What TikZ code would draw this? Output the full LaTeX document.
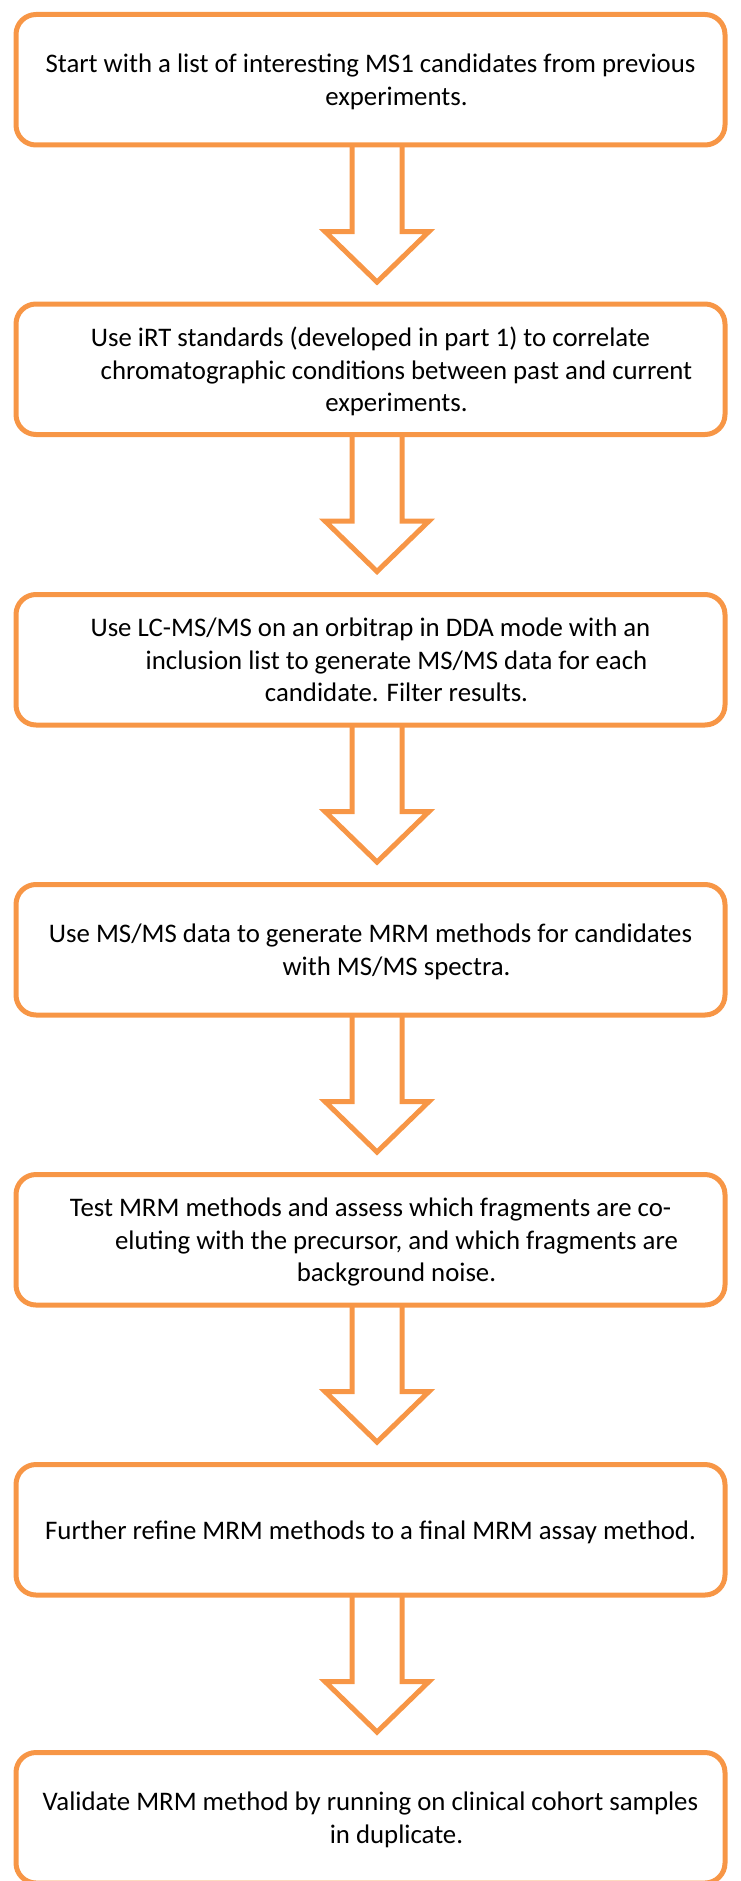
\documentclass[tikz,border=0pt]{standalone}
\usepackage{fontspec}
\setmainfont{Carlito}
\usepackage{tikz}
\definecolor{boxorange}{HTML}{F79646}

\begin{document}
\begin{tikzpicture}[x=1pt, y=-1pt,
    stepbox/.style={draw=boxorange, line width=5pt, rounded corners=20pt,
      minimum width=709pt, minimum height=130.5pt, inner sep=0pt, outer sep=0pt,
      align=center, text depth=0pt, font=\fontsize{26.8}{32.5}\selectfont},
    blockarrow/.style={draw=boxorange, line width=5pt, line join=miter}]
    \useasboundingbox (0,0) rectangle (740,1881);
    \node[stepbox] (s1) at (370.5, 79.75) {Start with a list of interesting MS1 candidates from previous\\
      \hspace*{52pt}experiments.};
    \node[stepbox] (s2) at (370.5, 369.25) {Use iRT standards (developed in part 1) to correlate\\
      \hspace*{52pt}chromatographic conditions between past and current\\
      \hspace*{52pt}experiments.};
    \node[stepbox] (s3) at (370.5, 659.75) {Use LC-MS/MS on an orbitrap in DDA mode with an\\
      \hspace*{52pt}inclusion list to generate MS/MS data for each\\
      \hspace*{52pt}candidate. Filter results.};
    \node[stepbox] (s4) at (370.5, 949.75) {Use MS/MS data to generate MRM methods for candidates\\
      \hspace*{52pt}with MS/MS spectra.};
    \node[stepbox] (s5) at (370.5, 1239.75) {Test MRM methods and assess which fragments are co-\\
      \hspace*{52pt}eluting with the precursor, and which fragments are\\
      \hspace*{52pt}background noise.};
    \node[stepbox] (s6) at (370.5, 1529.75) {Further refine MRM methods to a final MRM assay method.};
    \node[stepbox] (s7) at (370.5, 1817.75) {Validate MRM method by running on clinical cohort samples\\
      \hspace*{52pt}in duplicate.};
    \draw[blockarrow] ([xshift=-18.5pt]s1.south) -- ++(0,86.5) -- ++(-27,0) -- ++(52,50.5) -- ++(52,-50.5) -- ++(-27,0) -- ++(0,-86.5);
    \draw[blockarrow] ([xshift=-18.5pt]s2.south) -- ++(0,86.5) -- ++(-27,0) -- ++(52,50.5) -- ++(52,-50.5) -- ++(-27,0) -- ++(0,-86.5);
    \draw[blockarrow] ([xshift=-18.5pt]s3.south) -- ++(0,86.5) -- ++(-27,0) -- ++(52,50.5) -- ++(52,-50.5) -- ++(-27,0) -- ++(0,-86.5);
    \draw[blockarrow] ([xshift=-18.5pt]s4.south) -- ++(0,86.5) -- ++(-27,0) -- ++(52,50.5) -- ++(52,-50.5) -- ++(-27,0) -- ++(0,-86.5);
    \draw[blockarrow] ([xshift=-18.5pt]s5.south) -- ++(0,86.5) -- ++(-27,0) -- ++(52,50.5) -- ++(52,-50.5) -- ++(-27,0) -- ++(0,-86.5);
    \draw[blockarrow] ([xshift=-18.5pt]s6.south) -- ++(0,86.5) -- ++(-27,0) -- ++(52,50.5) -- ++(52,-50.5) -- ++(-27,0) -- ++(0,-86.5);
\end{tikzpicture}
\end{document}
